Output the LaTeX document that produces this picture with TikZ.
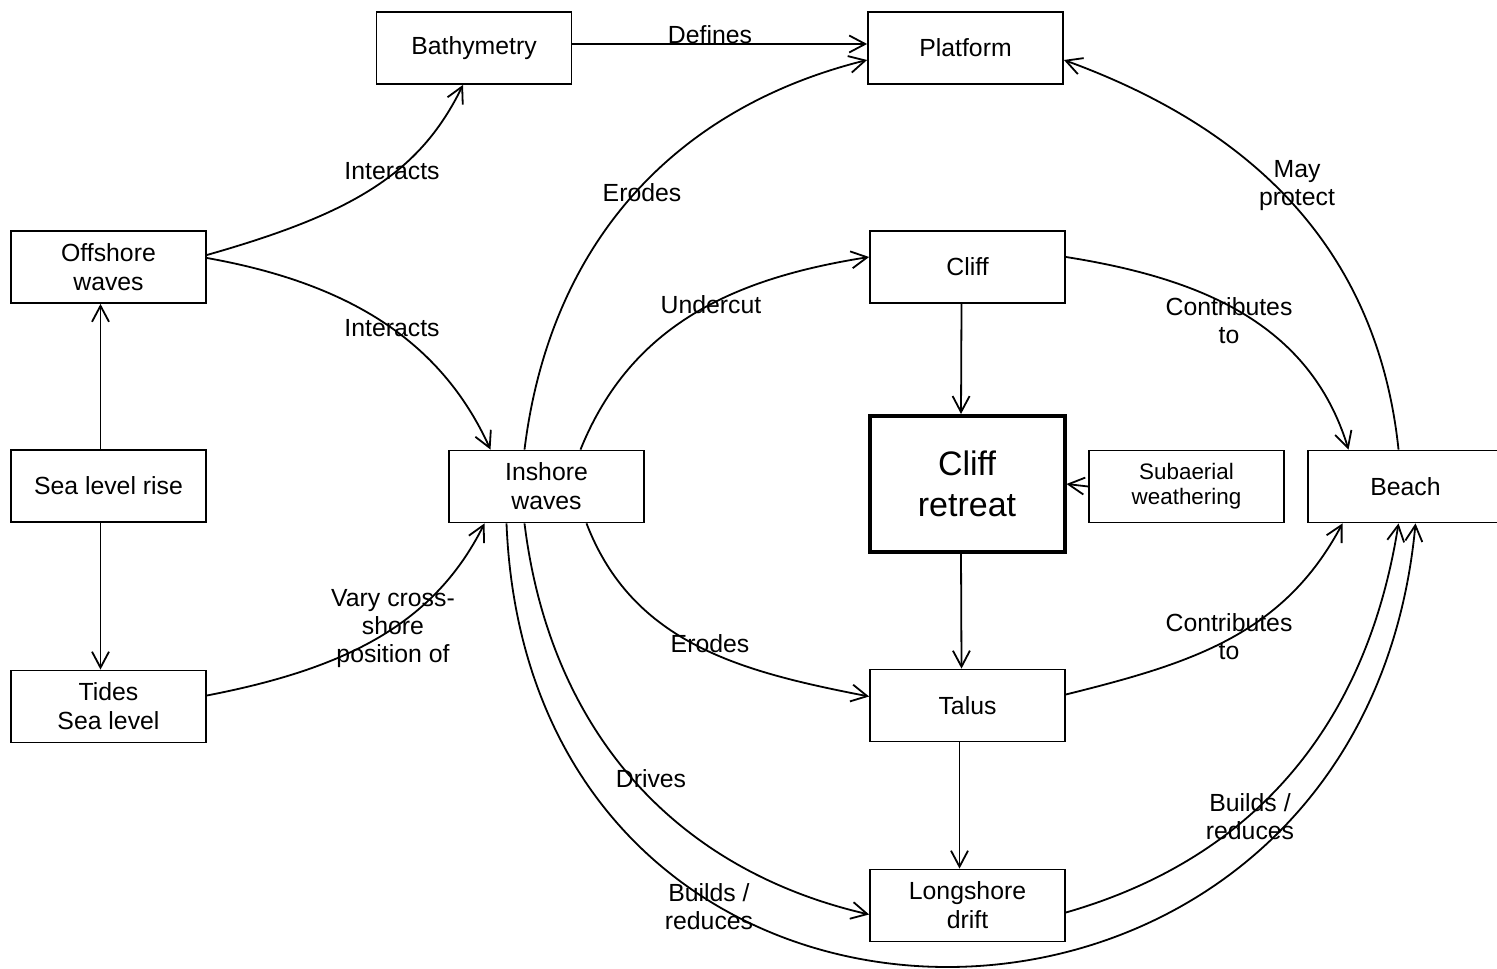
\documentclass[tikz,border=0pt]{standalone}
\usepackage{fontspec}
\setmainfont{Liberation Sans}
\usetikzlibrary{arrows.meta}

\begin{document}
\begin{tikzpicture}[x=0.5pt,y=0.5pt,line width=0.9pt,
  >={Straight Barb[length=8pt,width=8.5pt]},
  box/.style={draw,minimum width=97.5pt,minimum height=36pt,align=center,
    inner sep=0pt,font=\fontsize{12.4}{14.5}\selectfont},
  lbl/.style={align=center,inner sep=0pt,font=\fontsize{12.4}{14}\selectfont}]
\useasboundingbox (0,0) rectangle (1497,968);
\clip (0,0) rectangle (1497,968); % beach box runs off the page

% Boxes, left column.
\node[box] (off) at (108.5,701) {Offshore\\waves};
\node[box] (slr) at (108.5,482) {Sea level rise};
\node[box] (tides) at (108.5,261.5) {Tides\\Sea level};

% Boxes, middle and right.
\node[box] (bath) at (474,920) {Bathymetry};
\node[box] (insh) at (546.5,481.5) {Inshore\\waves};
\node[box] (plat) at (965.5,920) {Platform};
\node[box] (cliff) at (967.5,701) {Cliff};
\node[box,minimum height=68pt,line width=2pt,font=\fontsize{17}{20.5}\selectfont] (retreat) at (967,484) {Cliff\\retreat};
\node[box,font=\fontsize{11.2}{12.5}\selectfont] (sub) at (1186.5,481.5) {Subaerial\\weathering};
\node[box] (beach) at (1405.5,481.5) {Beach};
\node[box] (talus) at (967.5,262.5) {Talus};
\node[box] (drift) at (967.5,62.5) {Longshore\\drift};

% Straight arrows.
\draw[->] ([xshift=-4pt]slr.north) -- ([xshift=-4pt]off.south);
\draw[->] ([xshift=-4pt]slr.south) -- ([xshift=-4pt]tides.north);
\draw[->] ([yshift=2pt]bath.east) -- ([yshift=2pt]plat.west);
\draw[->] ([xshift=-3pt]cliff.south) -- ([xshift=-3pt]retreat.north);
\draw[->] ([xshift=-3pt]retreat.south) -- ([xshift=-3pt]talus.north);
\draw[->] ([xshift=-4pt]talus.south) -- ([xshift=-4pt]drift.north);
\draw[->] (sub.west) -- (retreat.east);

% Curved arrows from the left column.
\draw[->] ([yshift=6pt]off.east) .. controls +(144,41) and +(-44,-90) .. ([xshift=-5.5pt]bath.south);
\draw[->] ([yshift=4.5pt]off.east) .. controls +(140,-25) and +(-50,110) .. ([xshift=-28pt]insh.north);
\draw[->] ([yshift=5.5pt]tides.east) .. controls +(140,27) and +(-50,-100) .. ([xshift=-31pt]insh.south);

% Curved arrows from inshore waves.
\draw[->] ([xshift=-11pt]insh.north) to[out=83,in=194] ([yshift=-6pt]plat.west);
\draw[->] ([xshift=17pt]insh.north) to[out=68,in=189] ([yshift=5pt]cliff.west);
\draw[->] ([xshift=20pt]insh.south) to[out=-69,in=169] ([yshift=4.5pt]talus.west);
\draw[->] ([xshift=-11pt]insh.south) to[out=-83,in=167] ([yshift=-4.5pt]drift.west);
\draw[->] ([xshift=-20pt]insh.south) .. controls +(24,-596) and +(-55,-586) .. ([xshift=5pt]beach.south);

% Curved arrows on the right.
\draw[->] ([yshift=5pt]cliff.east) to[out=-9,in=107] ([xshift=-28.5pt]beach.north);
\draw[->] ([xshift=-3.5pt]beach.north) to[out=96,in=-20] ([yshift=-6pt]plat.east);
\draw[->] ([yshift=5.5pt]talus.east) to[out=14,in=242] ([xshift=-31.5pt]beach.south);
\draw[->] ([yshift=-3.5pt]drift.east) to[out=16,in=261] ([xshift=-3.5pt]beach.south);

% Labels on the arrows.
\node[lbl] (l-def) at (710,933) {Defines};
\node[lbl] (l-int1) at (392,797) {Interacts};
\node[lbl] (l-int2) at (392,640) {Interacts};
\node[lbl] (l-vary) at (393,339) {Vary cross-\\shore\\position of};
\node[lbl] (l-ero1) at (642,775) {Erodes};
\node[lbl] (l-und) at (711,663) {Undercut};
\node[lbl] (l-ero2) at (710,324) {Erodes};
\node[lbl] (l-drv) at (651,189) {Drives};
\node[lbl] (l-bld1) at (709,61) {Builds /\\reduces};
\node[lbl] (l-may) at (1297,782) {May\\protect};
\node[lbl] (l-con1) at (1229,647.5) {Contributes\\to};
\node[lbl] (l-con2) at (1229,331.5) {Contributes\\to};
\node[lbl] (l-bld2) at (1250,151) {Builds /\\reduces};

\end{tikzpicture}
\end{document}
